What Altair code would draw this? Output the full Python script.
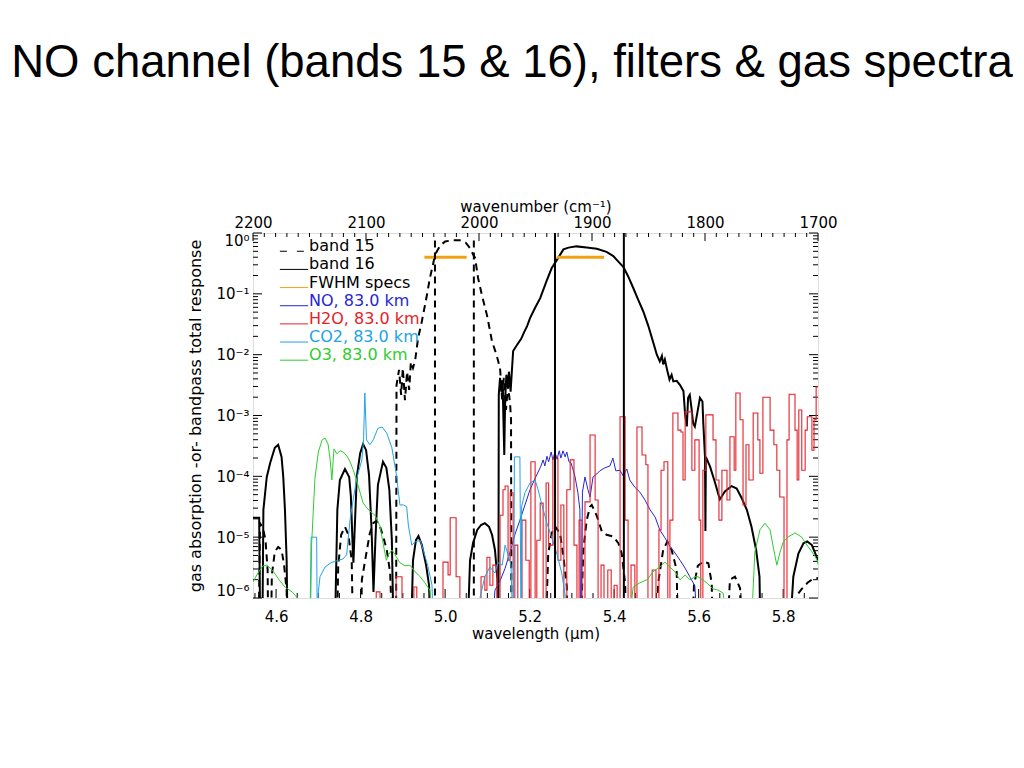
import altair as alt
import pandas as pd

W, H = 565, 365
FONT = "DejaVu Sans"

TITLE = "NO channel (bands 15 & 16), filters & gas spectra"

# ---------------- data ----------------
# each entry: (wavelength in micron, log10 of response / absorption); -7 means "below the plot floor"
band15_pts = [
    (4.558, -7), (4.562, -4.77), (4.569, -4.85), (4.575, -5.05), (4.580, -5.54), (4.582, -7),
    (4.587, -7), (4.590, -5.62), (4.597, -5.24), (4.605, -5.16), (4.613, -5.21), (4.619, -5.46),
    (4.625, -5.87), (4.627, -7), (4.743, -7), (4.747, -5.49), (4.754, -4.96), (4.763, -4.83),
    (4.771, -4.96), (4.779, -5.38), (4.783, -7), (4.800, -7), (4.803, -5.70), (4.813, -5.29),
    (4.822, -4.93), (4.830, -4.77), (4.838, -4.73), (4.846, -4.83), (4.854, -5.00), (4.862, -5.21),
    (4.870, -5.59), (4.877, -7), (4.884, -7), (4.885, -2.50), (4.891, -2.25), (4.896, -2.66),
    (4.900, -2.22), (4.905, -2.75), (4.910, -2.28), (4.915, -2.58), (4.919, -2.12), (4.924, -2.22),
    (4.929, -2.10), (4.936, -1.73), (4.945, -1.45), (4.957, -1.02), (4.964, -0.74), (4.971, -0.53),
    (4.976, -0.36), (4.988, -0.21), (5.000, -0.14), (5.016, -0.12), (5.035, -0.12), (5.049, -0.16),
    (5.059, -0.25), (5.066, -0.35), (5.071, -0.41), (5.078, -0.74), (5.087, -1.02), (5.099, -1.35),
    (5.111, -1.78), (5.122, -2.01), (5.130, -2.22), (5.135, -2.75), (5.139, -2.38), (5.144, -2.91),
    (5.149, -2.50), (5.154, -2.83), (5.156, -3.07), (5.157, -7), (5.236, -7), (5.244, -5.27),
    (5.252, -4.94), (5.260, -4.82), (5.272, -4.94), (5.280, -5.32), (5.288, -5.81), (5.290, -7),
    (5.319, -7), (5.327, -5.21), (5.335, -4.72), (5.343, -4.50), (5.347, -4.47), (5.359, -4.65),
    (5.371, -4.91), (5.382, -4.96), (5.398, -4.99), (5.410, -5.10), (5.418, -5.27), (5.426, -5.76),
    (5.430, -7), (5.499, -7), (5.504, -5.76), (5.516, -5.21), (5.526, -5.07), (5.536, -5.21),
    (5.548, -5.54), (5.552, -7), (5.582, -7), (5.589, -5.79), (5.598, -5.47), (5.611, -5.40),
    (5.623, -5.43), (5.631, -5.76), (5.634, -7), (5.665, -7), (5.674, -5.70), (5.686, -5.65),
    (5.698, -5.84), (5.702, -7), (5.821, -7), (5.833, -5.95), (5.844, -5.85), (5.859, -5.74),
    (5.870, -5.69), (5.883, -5.67),
]

band16_pts = [
    (4.545, -4.68), (4.560, -4.68), (4.563, -7), (4.567, -7), (4.570, -4.55), (4.578, -4.01),
    (4.586, -3.78), (4.597, -3.53), (4.605, -3.48), (4.613, -3.68), (4.617, -4.01), (4.621, -4.55),
    (4.625, -5.38), (4.628, -7), (4.738, -7), (4.745, -4.55), (4.751, -4.06), (4.763, -3.88),
    (4.773, -4.01), (4.777, -4.33), (4.781, -5.10), (4.783, -5.42), (4.785, -5.05), (4.791, -4.01),
    (4.799, -3.62), (4.806, -3.47), (4.813, -3.57), (4.820, -3.98), (4.826, -4.88), (4.8305, -5.90),
    (4.835, -5.05), (4.841, -4.14), (4.853, -3.76), (4.861, -3.86), (4.868, -4.22), (4.874, -5.05),
    (4.879, -7), (4.918, -7), (4.924, -5.38), (4.931, -5.05), (4.937, -4.98), (4.945, -5.13),
    (4.955, -5.46), (4.962, -5.79), (4.967, -7), (5.051, -7), (5.059, -5.38), (5.066, -5.10),
    (5.076, -4.88), (5.085, -4.80), (5.094, -4.77), (5.104, -4.83), (5.111, -4.96), (5.118, -5.21),
    (5.124, -5.70), (5.126, -7), (5.127, -2.66), (5.130, -2.38), (5.133, -2.61), (5.136, -2.42),
    (5.138, -3.07), (5.140, -3.65), (5.142, -2.75), (5.145, -2.33), (5.149, -2.55), (5.151, -2.28),
    (5.155, -2.61), (5.157, -2.38), (5.161, -1.94), (5.170, -1.84), (5.180, -1.74), (5.187, -1.63),
    (5.194, -1.53), (5.201, -1.40), (5.213, -1.23), (5.225, -1.07), (5.240, -0.79), (5.252, -0.58),
    (5.262, -0.47), (5.272, -0.36), (5.280, -0.27), (5.292, -0.24), (5.311, -0.22), (5.335, -0.24),
    (5.359, -0.26), (5.382, -0.31), (5.398, -0.38), (5.410, -0.47), (5.422, -0.56), (5.433, -0.71),
    (5.445, -0.90), (5.457, -1.10), (5.469, -1.29), (5.481, -1.53), (5.493, -1.81), (5.501, -2.00),
    (5.508, -2.11), (5.513, -2.02), (5.516, -2.16), (5.520, -2.08), (5.526, -2.27), (5.531, -2.41),
    (5.536, -2.33), (5.540, -2.44), (5.548, -2.43), (5.556, -2.50), (5.564, -2.60), (5.568, -2.99),
    (5.572, -3.18), (5.575, -2.71), (5.579, -2.66), (5.583, -2.88), (5.587, -3.13), (5.591, -3.18),
    (5.596, -2.99), (5.603, -2.71), (5.609, -2.77), (5.611, -3.13), (5.615, -3.68), (5.616, -4.90),
    (5.617, -3.68), (5.627, -3.84), (5.639, -4.11), (5.650, -4.38), (5.662, -4.25), (5.678, -4.16),
    (5.690, -4.20), (5.702, -4.36), (5.714, -4.55), (5.725, -4.83), (5.736, -5.21), (5.744, -5.65),
    (5.747, -7), (5.812, -7), (5.824, -5.65), (5.836, -5.27), (5.848, -5.10), (5.857, -5.07),
    (5.868, -5.13), (5.879, -5.32), (5.883, -5.38),
]

no_pts = [
    (5.106, -7), (5.118, -5.87), (5.130, -5.72), (5.142, -5.51), (5.154, -5.24), (5.165, -4.96),
    (5.177, -4.72), (5.189, -4.47), (5.201, -4.22), (5.213, -4.03), (5.225, -3.86), (5.232, -3.73),
    (5.236, -3.83), (5.241, -3.67), (5.245, -3.76), (5.251, -3.60), (5.255, -3.73), (5.260, -3.60),
    (5.265, -3.72), (5.270, -3.58), (5.274, -3.70), (5.279, -3.58), (5.284, -3.68), (5.288, -3.60),
    (5.293, -3.76), (5.298, -3.78), (5.307, -3.99), (5.314, -4.26), (5.319, -4.55), (5.321, -7),
    (5.325, -4.26), (5.331, -4.01), (5.338, -4.22), (5.343, -4.34), (5.350, -4.01), (5.359, -3.96),
    (5.366, -3.91), (5.378, -3.86), (5.390, -3.83), (5.397, -3.70), (5.404, -3.91), (5.414, -3.90),
    (5.421, -3.99), (5.430, -3.88), (5.437, -4.06), (5.449, -4.18), (5.461, -4.26), (5.473, -4.39),
    (5.485, -4.55), (5.497, -4.67), (5.508, -4.88), (5.520, -5.01), (5.532, -5.15), (5.544, -5.26),
    (5.556, -5.38), (5.568, -5.51), (5.579, -5.65), (5.591, -5.80), (5.601, -7),
]

h2o_pts = [
    (4.832, -7), (4.837, -5.90), (4.846, -7), (4.884, -5.65), (4.898, -7), (4.926, -5.82),
    (4.933, -7), (4.995, -5.41), (5.007, -5.62), (5.012, -4.68), (5.026, -5.65), (5.035, -7),
    (5.085, -5.65), (5.094, -5.87), (5.099, -5.33), (5.106, -5.79), (5.113, -5.46), (5.123, -7),
    (5.130, -4.64), (5.137, -4.22), (5.142, -4.16), (5.149, -5.38), (5.154, -4.27), (5.161, -7),
    (5.165, -5.13), (5.172, -7), (5.182, -4.72), (5.191, -5.38), (5.199, -7), (5.203, -3.76),
    (5.213, -7), (5.217, -5.05), (5.225, -4.44), (5.232, -7), (5.239, -4.11), (5.245, -5.13),
    (5.255, -3.70), (5.267, -5.38), (5.274, -4.47), (5.281, -7), (5.288, -4.22), (5.296, -3.73),
    (5.305, -5.13), (5.312, -7), (5.317, -4.72), (5.324, -7), (5.331, -4.42), (5.343, -3.32),
    (5.355, -4.39), (5.362, -7), (5.369, -5.46), (5.376, -7), (5.385, -5.54), (5.393, -7),
    (5.400, -5.79), (5.407, -7), (5.414, -3.02), (5.426, -4.72), (5.433, -7), (5.440, -5.46),
    (5.449, -7), (5.454, -3.19), (5.466, -3.65), (5.475, -3.81), (5.480, -7), (5.490, -5.54),
    (5.499, -7), (5.506, -4.88), (5.511, -3.90), (5.518, -3.76), (5.527, -7), (5.532, -4.72),
    (5.539, -2.96), (5.551, -3.24), (5.558, -3.27), (5.563, -4.06), (5.568, -2.94), (5.584, -3.90),
    (5.591, -3.40), (5.601, -4.72), (5.605, -7), (5.610, -3.90), (5.617, -2.99), (5.634, -3.40),
    (5.641, -4.06), (5.648, -4.72), (5.655, -3.90), (5.667, -4.39), (5.674, -3.35), (5.684, -3.90),
    (5.688, -2.63), (5.698, -3.07), (5.705, -4.47), (5.712, -3.48), (5.719, -4.06), (5.729, -2.96),
    (5.740, -3.40), (5.745, -3.95), (5.752, -2.70), (5.769, -3.24), (5.778, -3.48), (5.785, -3.90),
    (5.792, -4.34), (5.802, -7), (5.809, -3.40), (5.814, -2.65), (5.828, -3.24), (5.833, -4.06),
    (5.837, -2.91), (5.844, -3.90), (5.852, -3.24), (5.857, -3.02), (5.868, -3.57), (5.873, -3.07),
    (5.878, -2.53), (5.883, -2.53),
]

co2_pts = [
    (4.679, -7), (4.683, -5.00), (4.696, -5.00), (4.698, -7), (4.700, -5.90), (4.704, -5.65),
    (4.716, -5.49), (4.730, -5.42), (4.747, -5.38), (4.758, -5.36), (4.767, -5.29), (4.775, -4.72),
    (4.783, -4.36), (4.791, -4.03), (4.803, -3.73), (4.807, -3.40), (4.810, -2.63), (4.814, -3.40),
    (4.822, -3.48), (4.830, -3.40), (4.841, -3.21), (4.851, -3.19), (4.862, -3.29), (4.874, -3.53),
    (4.885, -3.98), (4.893, -4.47), (4.901, -4.47), (4.909, -4.50), (4.913, -4.80), (4.921, -5.13),
    (4.929, -5.08), (4.941, -5.05), (4.949, -5.23), (4.959, -5.47), (4.969, -5.79), (4.974, -7),
    (5.078, -7), (5.083, -5.98), (5.094, -5.65), (5.106, -5.49), (5.118, -5.59), (5.125, -5.42),
    (5.135, -5.46), (5.142, -5.13), (5.149, -5.29), (5.156, -5.46), (5.162, -7), (5.164, -3.68),
    (5.177, -3.68), (5.180, -7), (5.181, -4.50), (5.189, -4.27), (5.201, -4.11), (5.213, -4.06),
    (5.220, -4.22), (5.229, -4.47), (5.241, -4.77), (5.252, -5.00), (5.264, -5.26), (5.276, -5.59),
    (5.284, -5.95), (5.286, -7),
]

o3_pts = [
    (4.545, -5.74), (4.557, -5.59), (4.569, -5.47), (4.579, -5.46), (4.593, -5.56), (4.607, -5.70),
    (4.621, -5.82), (4.638, -5.90), (4.657, -6.05), (4.680, -7), (4.684, -5.13), (4.692, -4.03),
    (4.700, -3.60), (4.709, -3.40), (4.716, -3.37), (4.723, -3.47), (4.728, -3.73), (4.732, -4.06),
    (4.737, -3.55), (4.744, -3.63), (4.751, -3.58), (4.759, -3.60), (4.768, -3.67), (4.775, -3.76),
    (4.783, -3.90), (4.791, -4.08), (4.799, -4.27), (4.806, -4.44), (4.815, -4.52), (4.822, -4.57),
    (4.834, -4.64), (4.846, -4.82), (4.854, -5.13), (4.861, -5.38), (4.866, -5.29), (4.874, -5.21),
    (4.881, -5.28), (4.893, -5.42), (4.905, -5.47), (4.917, -5.46), (4.929, -5.57), (4.941, -5.65),
    (4.952, -5.75), (4.964, -5.87), (4.974, -7), (5.426, -7), (5.445, -5.82), (5.461, -5.75),
    (5.478, -5.70), (5.492, -5.57), (5.508, -5.49), (5.520, -5.41), (5.532, -5.49), (5.544, -5.57),
    (5.556, -5.70), (5.568, -5.62), (5.579, -5.70), (5.595, -5.64), (5.610, -5.70), (5.622, -5.77),
    (5.634, -5.85), (5.646, -5.87), (5.658, -5.92), (5.674, -7), (5.721, -7), (5.733, -5.24),
    (5.745, -4.88), (5.757, -4.77), (5.769, -4.88), (5.777, -5.18), (5.785, -5.46), (5.792, -5.26),
    (5.800, -5.08), (5.811, -5.00), (5.828, -4.93), (5.844, -5.00), (5.856, -5.13), (5.868, -5.24),
    (5.879, -5.36), (5.883, -5.46),
]

band15_edges = [4.976, 5.068]
band16_edges = [5.260, 5.423]
fwhm_lo = [4.951, 5.264]
fwhm_hi = [5.051, 5.376]
fwhm_level = 0.4

legend_labels = ["band 15", "band 16", "FWHM specs", "NO, 83.0 km", "H2O, 83.0 km",
                 "CO2, 83.0 km", "O3, 83.0 km"]

x_major = [4.6, 4.8, 5.0, 5.2, 5.4, 5.6, 5.8]
wn_major = [2200, 2100, 2000, 1900, 1800, 1700]
y_major = [1e-6, 1e-5, 1e-4, 1e-3, 1e-2, 1e-1, 1.0]

# ---------------- styles ----------------
BLACK = "#000000"
ORANGE = "#F2A20F"
NO_C = "#2626D4"
H2O_C = "#E4222A"
CO2_C = "#22A3E6"
O3_C = "#2ECC2E"

x_minor = [round(4.55 + 0.05 * k, 2) for k in range(27)]
x_minor = [v for v in x_minor if all(abs(v - m) > 1e-6 for m in x_major)]
wn_minor = [w for w in range(1710, 2200, 10) if w % 100 != 0]
y_minor = [k * 10.0 ** e for e in range(-6, 0) for k in range(2, 10)]


def frame(pts):
    return pd.DataFrame({
        "wl": [p[0] for p in pts],
        "val": [10.0 ** p[1] for p in pts],
        "i": list(range(len(pts))),
    })


xscale = alt.Scale(domain=[4.5454, 5.8824], nice=False, zero=False)
yscale = alt.Scale(type="log", domain=[1e-6, 1.0], nice=False)

xaxis = alt.Axis(values=x_major, format=".1f", ticks=False, tickSize=0, domain=False, grid=False,
                 labelFont=FONT, labelFontSize=15, labelColor=BLACK, labelPadding=11,
                 labelFlush=False, labelOverlap=False,
                 title="wavelength (µm)", titleFont=FONT, titleFontSize=15,
                 titleFontWeight="normal", titleColor=BLACK, titlePadding=2)
yaxis = alt.Axis(values=y_major, ticks=False, tickSize=0, domain=False, grid=False,
                 labelExpr="'10' + ['\u2070','\u207b\u00b9','\u207b\u00b2','\u207b\u00b3','\u207b\u2074','\u207b\u2075','\u207b\u2076'][round(-log(datum.value)/LN10)]",
                 labelFont=FONT, labelFontSize=15, labelColor=BLACK, labelPadding=4,
                 labelFlush=True, labelOverlap=False,
                 title="gas absorption -or- bandpass total response", titleFont=FONT,
                 titleFontSize=16, titleFontWeight="normal", titleColor=BLACK, titlePadding=12)

X = alt.X("wl:Q", scale=xscale, axis=xaxis)
Y = alt.Y("val:Q", scale=yscale, axis=yaxis)
O = alt.Order("i:Q")


def curve(pts, color, width, dash=None, interp="linear"):
    kw = dict(color=color, strokeWidth=width, clip=True, interpolate=interp)
    if dash:
        kw["strokeDash"] = dash
    return alt.Chart(frame(pts)).mark_line(**kw).encode(x=X, y=Y, order=O)


# ticks (inward, IDL style)
ymaj = pd.DataFrame({"val": y_major})
ymin = pd.DataFrame({"val": y_minor})
xmaj = pd.DataFrame({"wl": x_major})
xmin = pd.DataFrame({"wl": x_minor})
tick_layers = [
    alt.Chart(ymaj).mark_rule(color=BLACK, strokeWidth=1).encode(y=Y, x=alt.value(0), x2=alt.value(9)),
    alt.Chart(ymin).mark_rule(color=BLACK, strokeWidth=1).encode(y=Y, x=alt.value(0), x2=alt.value(5)),
    alt.Chart(ymaj).mark_rule(color=BLACK, strokeWidth=1).encode(y=Y, x=alt.value(W - 9), x2=alt.value(W)),
    alt.Chart(ymin).mark_rule(color=BLACK, strokeWidth=1).encode(y=Y, x=alt.value(W - 5), x2=alt.value(W)),
    alt.Chart(xmaj).mark_rule(color=BLACK, strokeWidth=1).encode(x=X, y=alt.value(H - 9), y2=alt.value(H)),
    alt.Chart(xmin).mark_rule(color=BLACK, strokeWidth=1).encode(x=X, y=alt.value(H - 5), y2=alt.value(H)),
]

# band edge markers and FWHM bars
e15 = pd.DataFrame({"wl": band15_edges, "val": [0.75, 0.75], "val2": [1e-6, 1e-6]})
e16 = pd.DataFrame({"wl": band16_edges})
fw = pd.DataFrame({"wl": fwhm_lo, "wl2": fwhm_hi, "val": [fwhm_level, fwhm_level]})

marker_layers = [
    alt.Chart(e15).mark_rule(color=BLACK, strokeWidth=2, strokeDash=[7, 5]).encode(
        x=X, y=Y, y2=alt.Y2("val2:Q")),
    alt.Chart(e16).mark_rule(color=BLACK, strokeWidth=2).encode(x=X),
]

curves = [
    curve(band15_pts, BLACK, 2, dash=[7, 5]),
    curve(band16_pts, BLACK, 2),
    curve(no_pts, NO_C, 1),
    curve(h2o_pts, H2O_C, 1.1, interp="step-after"),
    curve(co2_pts, CO2_C, 1),
    curve(o3_pts, O3_C, 1),
    alt.Chart(fw).mark_rule(color=ORANGE, strokeWidth=3).encode(x=X, x2=alt.X2("wl2:Q"), y=Y),
]

# legend drawn inside the plot (IDL style)
n = len(legend_labels)
text_colors = [BLACK, BLACK, BLACK, NO_C, H2O_C, CO2_C, O3_C]
line_colors = [BLACK, BLACK, ORANGE, NO_C, H2O_C, CO2_C, O3_C]
leg_text = pd.DataFrame({
    "wl": [4.678] * n,
    "val": [10 ** (-0.219 - 0.2985 * k) for k in range(n)],
    "label": legend_labels,
    "c": text_colors,
})
leg_line = pd.DataFrame({
    "wl": [4.609] * n,
    "wl2": [4.676] * n,
    "val": [10 ** (-0.30 - 0.2985 * k) for k in range(n)],
    "c": line_colors,
})
legend_layers = [
    alt.Chart(leg_line.iloc[1:]).mark_rule(strokeWidth=1).encode(
        x=X, x2=alt.X2("wl2:Q"), y=Y, color=alt.Color("c:N", scale=None)),
    alt.Chart(leg_line.iloc[:1]).mark_rule(strokeWidth=1, color=BLACK, strokeDash=[7, 10]).encode(
        x=X, x2=alt.X2("wl2:Q"), y=Y),
    alt.Chart(leg_text).mark_text(align="left", baseline="middle", font=FONT, fontSize=16).encode(
        x=X, y=Y, text="label:N", color=alt.Color("c:N", scale=None)),
]

title_layer = alt.Chart(pd.DataFrame({"t": [TITLE]})).mark_text(
    font="Liberation Sans", fontSize=45.5, align="center", baseline="alphabetic", color=BLACK
).encode(text="t:N", x=alt.value(259), y=alt.value(-156))

inner = alt.layer(*tick_layers, *curves, *marker_layers, *legend_layers, title_layer)

# top wavenumber axis
wnscale = alt.Scale(domain=[2200, 1700], nice=False, zero=False)
wnaxis = alt.Axis(orient="top", values=wn_major, format="d", ticks=False, tickSize=0, domain=False,
                  grid=False, labelFont=FONT, labelFontSize=15, labelColor=BLACK, labelPadding=3,
                  labelFlush=False, labelOverlap=False,
                  title="wavenumber (cm\u207b\u00b9)", titleFont=FONT, titleFontSize=15,
                  titleFontWeight="normal", titleColor=BLACK, titlePadding=1)
XW = alt.X("wn:Q", scale=wnscale, axis=wnaxis)
top = alt.layer(
    alt.Chart(pd.DataFrame({"wn": wn_major})).mark_rule(color=BLACK, strokeWidth=1).encode(
        x=XW, y=alt.value(0), y2=alt.value(8)),
    alt.Chart(pd.DataFrame({"wn": wn_minor})).mark_rule(color=BLACK, strokeWidth=1).encode(
        x=XW, y=alt.value(0), y2=alt.value(4)),
)

chart = alt.layer(inner, top).resolve_scale(x="independent").properties(
    width=W, height=H,
    autosize=alt.AutoSizeParams(type="none"),
    padding={"left": 245, "top": 225, "right": 198, "bottom": 162},
).configure_view(stroke=BLACK, strokeWidth=1).configure(background="white")

chart.save("out.html", embed_options={"renderer": "svg", "actions": False})
